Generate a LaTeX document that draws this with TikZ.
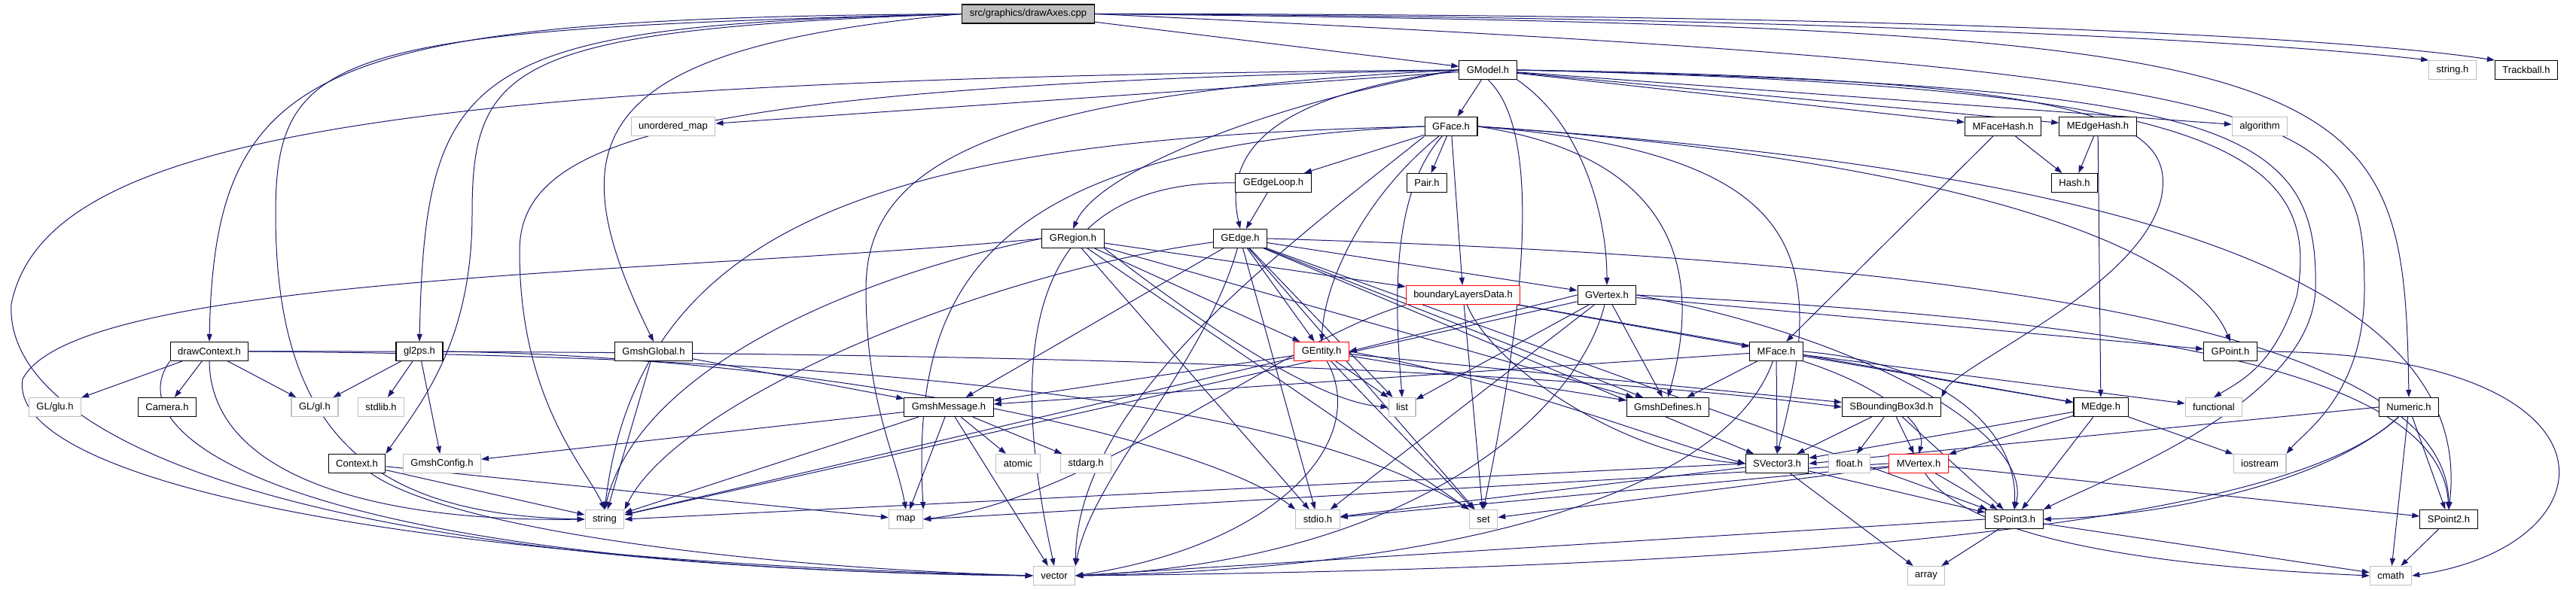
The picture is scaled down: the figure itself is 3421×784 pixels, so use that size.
\documentclass[tikz,border=0pt]{standalone}
\usepackage{fontspec}
\setmainfont{Liberation Sans}
\usepackage{xcolor}
\usepackage{tikz}
\usetikzlibrary{arrows.meta, backgrounds}

\definecolor{edgeblue}{HTML}{191970}
\definecolor{sysgray}{HTML}{BFBFBF}

\tikzset{
    hdr/.style={draw=black, fill=white, line width=1.1pt, minimum height=25pt,
        inner xsep=10pt, inner ysep=0pt, font=\fontsize{13}{15}\selectfont},
    sys/.style={hdr, draw=sysgray},
    trunc/.style={hdr, draw=red},
    root/.style={hdr, fill=sysgray},
    dep/.style={draw=edgeblue, line width=1pt, -{Triangle[length=10pt,width=7pt]}}
}

\begin{document}
\begin{tikzpicture}[x=1pt, y=1pt]
    \useasboundingbox (0,0) rectangle (3421,784);

    % Các nút (tệp tiêu đề)
    \node[root] (main) at (1365.5,765.5) {src/graphics/drawAxes.cpp};

    \node[hdr] (gmodel) at (1976,691) {GModel.h};
    \node[sys] (stringh) at (3257,691) {string.h};
    \node[hdr] (trackball) at (3355,691) {Trackball.h};

    \node[sys] (umap) at (894,616) {unordered\_map};
    \node[hdr] (gface) at (1927,616) {GFace.h};
    \node[hdr] (mfacehash) at (2660,616) {MFaceHash.h};
    \node[hdr] (medgehash) at (2786,616) {MEdgeHash.h};
    \node[sys] (algorithm) at (3001,616) {algorithm};

    \node[hdr] (gedgeloop) at (1691,541) {GEdgeLoop.h};
    \node[hdr] (pair) at (1895,541) {Pair.h};
    \node[hdr] (hash) at (2755,541) {Hash.h};

    \node[hdr] (gregion) at (1425,467) {GRegion.h};
    \node[hdr] (gedge) at (1647,467) {GEdge.h};

    \node[trunc] (bld) at (1943,392) {boundaryLayersData.h};
    \node[hdr] (gvertex) at (2134,392) {GVertex.h};

    \node[hdr] (drawcontext) at (278,317) {drawContext.h};
    \node[hdr] (gltwops) at (557,317) {gl2ps.h};
    \node[hdr] (gmshglobal) at (868,317) {GmshGlobal.h};
    \node[trunc] (gentity) at (1755,317) {GEntity.h};
    \node[hdr] (mface) at (2359,317) {MFace.h};
    \node[hdr] (gpoint) at (2962,317) {GPoint.h};

    \node[sys] (glu) at (73,243) {GL/glu.h};
    \node[hdr] (camera) at (222,243) {Camera.h};
    \node[sys] (gl) at (418,243) {GL/gl.h};
    \node[sys] (stdlib) at (506,243) {stdlib.h};
    \node[hdr] (gmshmessage) at (1260,243) {GmshMessage.h};
    \node[sys] (list) at (1862,243) {list};
    \node[hdr] (gmshdefines) at (2215,243) {GmshDefines.h};
    \node[hdr] (sbbox) at (2512,243) {SBoundingBox3d.h};
    \node[hdr] (medge) at (2790,243) {MEdge.h};
    \node[sys] (functional) at (2940,243) {functional};
    \node[hdr] (numeric) at (3199,243) {Numeric.h};

    \node[hdr] (context) at (474,168) {Context.h};
    \node[sys] (gmshconfig) at (587,168) {GmshConfig.h};
    \node[sys] (atomic) at (1352,168) {atomic};
    \node[sys] (stdarg) at (1442,168) {stdarg.h};
    \node[hdr] (svector) at (2360,168) {SVector3.h};
    \node[sys] (floath) at (2456,168) {float.h};
    \node[trunc] (mvertex) at (2548,168) {MVertex.h};
    \node[sys] (iostream) at (3001,168) {iostream};

    \node[sys] (string) at (803,94) {string};
    \node[sys] (map) at (1203,94) {map};
    \node[sys] (stdio) at (1750,94) {stdio.h};
    \node[sys] (set) at (1970,94) {set};
    \node[hdr] (spoint3) at (2675,94) {SPoint3.h};
    \node[hdr] (spoint2) at (3252,94) {SPoint2.h};

    \node[sys] (vector) at (1400,19) {vector};
    \node[sys] (array) at (2558,19) {array};
    \node[sys] (cmath) at (3175,19) {cmath};

    \begin{pgfonlayer}{background}
    % Các phụ thuộc của drawAxes.cpp
    \draw[dep] (main) -- (gmodel);
    \draw[dep] (main.east) .. controls (2400,762) and (3000,730) .. (stringh.north west);
    \draw[dep] (main.east) .. controls (2500,766) and (3100,736) .. (trackball.north west);
    \draw[dep] (main.east) .. controls (3150,748) and (3192,700) .. (numeric.north);
    \draw[dep] (main.east) .. controls (3080,690) and (3140,640) .. (3140,400)
        .. controls (3140,260) and (3060,210) .. (iostream.north east);
    \draw[dep] (main.west) .. controls (420,760) and (285,700) .. (drawcontext.north);
    \draw[dep] (main.west) .. controls (450,745) and (366,720) .. (366,500)
        .. controls (366,200) and (500,100) .. (string.west);
    \draw[dep] (main.west) .. controls (620,750) and (565,700) .. (gltwops.north);
    \draw[dep] (main.west) .. controls (680,745) and (627,700) .. (627,500)
        .. controls (627,330) and (560,250) .. (context.north east);
    \draw[dep] (main.west) .. controls (780,720) and (735,600) .. (gmshglobal.north);

    % GModel.h
    \draw[dep] (gmodel) -- (gface);
    \draw[dep] (gmodel.west) .. controls (1700,650) and (1460,560) .. (gregion.north);
    \draw[dep] (gmodel.west) .. controls (1720,660) and (1620,600) .. (gedge.north);
    \draw[dep] (gmodel.south east) .. controls (2100,620) and (2134,500) .. (gvertex.north);
    \draw[dep] (gmodel) -- (umap);
    \draw[dep] (gmodel.west) .. controls (1300,660) and (1150,560) .. (1150,400)
        .. controls (1150,250) and (1190,180) .. (map.north);
    \draw[dep] (gmodel.south) .. controls (2060,600) and (2010,300) .. (set.north);
    \draw[dep] (gmodel.west) .. controls (900,670) and (690,600) .. (690,450)
        .. controls (690,250) and (780,160) .. (string.north);
    \draw[dep] (gmodel.west) .. controls (500,680) and (60,600) .. (15,380)
        .. controls (5,200) and (400,30) .. (vector.west);
    \draw[dep] (gmodel) -- (algorithm);
    \draw[dep] (gmodel) -- (mfacehash);
    \draw[dep] (gmodel) -- (medgehash);
    \draw[dep] (gmodel.east) .. controls (2800,680) and (2890,620) .. (2870,520)
        .. controls (2840,400) and (2600,300) .. (sbbox.north east);
    \draw[dep] (gmodel.east) .. controls (2950,670) and (3080,620) .. (3075,400)
        .. controls (3070,250) and (2800,150) .. (spoint3.north east);
    \draw[dep] (gmodel.east) .. controls (2900,670) and (3090,600) .. (3050,390)
        .. controls (3020,300) and (2980,280) .. (functional.north);

    % GFace.h
    \draw[dep] (gface) -- (gedgeloop);
    \draw[dep] (gface) -- (pair);
    \draw[dep] (gface) -- (bld);
    \draw[dep] (gface) .. controls (1820,530) and (1760,420) .. (gentity.north);
    \draw[dep] (gface) .. controls (1840,520) and (1855,350) .. (list.north);
    \draw[dep] (gface.east) .. controls (2500,580) and (2900,480) .. (gpoint.north);
    \draw[dep] (gface.east) .. controls (2200,580) and (2270,450) .. (gmshdefines.north);
    \draw[dep] (gface.east) .. controls (2400,580) and (2430,450) .. (svector.north);
    \draw[dep] (gface.east) .. controls (2800,560) and (3290,420) .. (spoint2.north);
    \draw[dep] (gface.west) .. controls (1200,600) and (850,500) .. (string.north);
    \draw[dep] (gface.south west) .. controls (1700,450) and (1430,250) .. (vector.north east);
    \draw[dep] (gface.west) .. controls (1300,590) and (1210,400) .. (map.north east);

    % GEdgeLoop.h
    \draw[dep] (gedgeloop) -- (gedge);
    \draw[dep] (gedgeloop.west) .. controls (1380,545) and (1330,350) .. (vector.north);

    % GRegion.h
    \draw[dep] (gregion) -- (gentity);
    \draw[dep] (gregion) -- (bld);
    \draw[dep] (gregion.south east) .. controls (1600,350) and (1750,250) .. (list.west);
    \draw[dep] (gregion) -- (gmshdefines);
    \draw[dep] (gregion) -- (stdio);
    \draw[dep] (gregion) -- (set);
    \draw[dep] (gregion.west) .. controls (1150,420) and (850,300) .. (string.north);
    \draw[dep] (gregion.west) .. controls (900,420) and (100,420) .. (30,280)
        .. controls (10,150) and (500,40) .. (vector.west);

    % GEdge.h
    \draw[dep] (gedge) -- (gentity);
    \draw[dep] (gedge) -- (gvertex);
    \draw[dep] (gedge) -- (gmshmessage);
    \draw[dep] (gedge) -- (list);
    \draw[dep] (gedge) -- (set);
    \draw[dep] (gedge) -- (stdio);
    \draw[dep] (gedge) -- (gmshdefines);
    \draw[dep] (gedge) -- (svector);
    \draw[dep] (gedge) -- (spoint3);
    \draw[dep] (gedge.east) .. controls (2600,440) and (3250,350) .. (spoint2.north);
    \draw[dep] (gedge) .. controls (1300,420) and (900,250) .. (string.north east);
    \draw[dep] (gedge) .. controls (1600,300) and (1450,150) .. (vector.north east);

    % GVertex.h
    \draw[dep] (gvertex.west) -- (gentity.east);
    \draw[dep] (gvertex) -- (gpoint);
    \draw[dep] (gvertex) -- (gmshdefines);
    \draw[dep] (gvertex) -- (list);
    \draw[dep] (gvertex) -- (stdio);
    \draw[dep] (gvertex) -- (string);
    \draw[dep] (gvertex) .. controls (2100,250) and (1900,40) .. (vector.east);
    \draw[dep] (gvertex.east) .. controls (2800,360) and (3240,300) .. (spoint2.north);
    \draw[dep] (gvertex.east) .. controls (2500,330) and (2700,200) .. (spoint3.north);

    % boundaryLayersData.h
    \draw[dep] (bld) -- (mface);
    \draw[dep] (bld) -- (medge);
    \draw[dep] (bld) .. controls (1980,300) and (2150,180) .. (svector.west);
    \draw[dep] (bld) -- (set);
    \draw[dep] (bld.south west) .. controls (1700,330) and (1450,120) .. (map.east);

    % GEntity.h
    \draw[dep] (gentity) -- (list);
    \draw[dep] (gentity) -- (set);
    \draw[dep] (gentity) -- (gmshdefines);
    \draw[dep] (gentity) -- (sbbox);
    \draw[dep] (gentity) -- (gmshmessage);
    \draw[dep] (gentity) -- (string);
    \draw[dep] (gentity) .. controls (1820,200) and (1700,60) .. (vector.east);
    \draw[dep] (gentity.east) .. controls (2000,280) and (2200,200) .. (svector.west);

    % MFace.h
    \draw[dep] (mface) -- (gmshdefines);
    \draw[dep] (mface) -- (svector);
    \draw[dep] (mface) -- (medge);
    \draw[dep] (mface) -- (functional);
    \draw[dep] (mface) -- (gmshmessage);
    \draw[dep] (mface.south east) .. controls (2500,270) and (2560,220) .. (mvertex.north);
    \draw[dep] (mface.east) .. controls (2600,300) and (2680,200) .. (spoint3.north);
    \draw[dep] (mface) .. controls (2300,150) and (2000,30) .. (vector.east);

    % SBoundingBox3d.h, MEdge.h
    \draw[dep] (sbbox) -- (svector);
    \draw[dep] (sbbox) -- (floath);
    \draw[dep] (sbbox) -- (mvertex);
    \draw[dep] (sbbox) -- (spoint3);
    \draw[dep] (medge) -- (mvertex);
    \draw[dep] (medge) -- (svector);
    \draw[dep] (medge) -- (iostream);
    \draw[dep] (medge) -- (spoint3);

    % MVertex.h, SVector3.h, SPoint3.h, SPoint2.h, GPoint.h
    \draw[dep] (mvertex) -- (spoint3);
    \draw[dep] (mvertex) -- (spoint2);
    \draw[dep] (mvertex) -- (set);
    \draw[dep] (mvertex) -- (stdio);
    \draw[dep] (mvertex.west) -- (map.east);
    \draw[dep] (mvertex) .. controls (2620,60) and (2900,30) .. (cmath.west);
    \draw[dep] (svector) -- (spoint3);
    \draw[dep] (svector) -- (array);
    \draw[dep] (svector) -- (stdio);
    \draw[dep] (svector.west) -- (string.east);
    \draw[dep] (spoint3) -- (array);
    \draw[dep] (spoint3) -- (cmath);
    \draw[dep] (spoint3.west) -- (vector.east);
    \draw[dep] (spoint2) -- (cmath);
    \draw[dep] (gpoint.east) .. controls (3500,317) and (3480,60) .. (cmath.east);

    % Numeric.h
    \draw[dep] (numeric.west) -- (svector.east);
    \draw[dep] (numeric) .. controls (3100,150) and (2900,100) .. (spoint3.east);
    \draw[dep] (numeric) -- (spoint2);
    \draw[dep] (numeric) -- (cmath);
    \draw[dep] (numeric) .. controls (3050,100) and (2500,30) .. (vector.east);

    % MFaceHash.h, MEdgeHash.h
    \draw[dep] (mfacehash) -- (mface);
    \draw[dep] (mfacehash) -- (hash);
    \draw[dep] (medgehash) -- (hash);
    \draw[dep] (medgehash) -- (medge);

    % GmshMessage.h, GmshGlobal.h
    \draw[dep] (gmshmessage) -- (gmshconfig);
    \draw[dep] (gmshmessage) -- (atomic);
    \draw[dep] (gmshmessage) -- (stdarg);
    \draw[dep] (gmshmessage) -- (string);
    \draw[dep] (gmshmessage) -- (map);
    \draw[dep] (gmshmessage) -- (vector);
    \draw[dep] (gmshglobal) -- (string);
    \draw[dep] (gmshglobal) -- (gmshmessage);

    % drawContext.h, gl2ps.h, Context.h
    \draw[dep] (drawcontext) -- (glu);
    \draw[dep] (drawcontext) -- (camera);
    \draw[dep] (drawcontext) -- (gl);
    \draw[dep] (drawcontext.south) .. controls (280,150) and (500,90) .. (string.west);
    \draw[dep] (drawcontext.south west) .. controls (150,200) and (400,30) .. (vector.west);
    \draw[dep] (drawcontext.east) .. controls (1200,318) and (2000,300) .. (sbbox.west);
    \draw[dep] (drawcontext.east) .. controls (1300,310) and (1750,230) .. (set.north west);
    \draw[dep] (gltwops) -- (gl);
    \draw[dep] (gltwops) -- (stdlib);
    \draw[dep] (gltwops) -- (gmshconfig);
    \draw[dep] (gltwops.east) .. controls (1100,310) and (1600,200) .. (stdio.north west);
    \draw[dep] (context) -- (string);
    \draw[dep] (context) -- (map);
    \draw[dep] (context) .. controls (600,80) and (1000,30) .. (vector.west);
    \end{pgfonlayer}

\end{tikzpicture}
\end{document}
